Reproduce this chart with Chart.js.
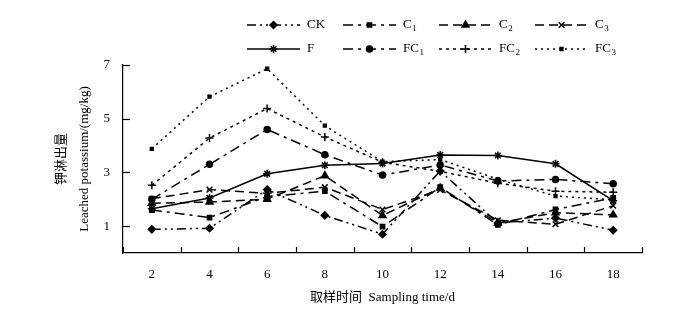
<!DOCTYPE html>
<html><head><meta charset="utf-8">
<script src="https://cdn.jsdelivr.net/npm/chart.js@4.4.0/dist/chart.umd.min.js"></script>
<style>html,body{margin:0;padding:0;background:#fff}#wrap{width:700px;height:310px;position:relative}</style>
</head><body><div id="wrap"><canvas id="c"></canvas></div>
<script>
const categories = ['2','4','6','8','10','12','14','16','18'];
const seriesNames = ['CK','C1','C2','C3','F','FC1','FC2','FC3'];
const CK  = [0.88,0.92,2.36,1.40,0.70,3.05,1.12,1.30,0.85];
const C1  = [1.60,1.32,2.10,2.30,0.98,2.45,1.05,1.62,2.05];
const C2  = [1.85,1.90,2.00,2.88,1.40,2.42,1.12,1.50,1.42];
const C3  = [2.02,2.36,2.22,2.45,1.62,2.35,1.22,1.07,1.76];
const F   = [1.65,2.05,2.95,3.27,3.33,3.65,3.63,3.32,1.95];
const FC1 = [2.00,3.30,4.60,3.66,2.90,3.28,2.68,2.74,2.58];
const FC2 = [2.52,4.28,5.38,4.32,3.38,3.04,2.60,2.30,2.26];
const FC3 = [3.88,5.82,6.86,4.74,3.40,3.48,2.75,2.12,1.98];
const yTicks = [1,3,5,7];

const SERIF = '"Liberation Serif", "Noto Sans CJK SC", serif';
const styles = [
  {dash:[9,4,2,4,2,4], point:'rectRot', r:3.5},
  {dash:[10,5,3,5], point:'rect', r:3},
  {dash:[9,5], point:'triangle', r:4},
  {dash:[9,5], point:'crossRot', r:4},
  {dash:[], point:'star', r:4},
  {dash:[10,5,3,5], point:'circle', r:3},
  {dash:[3,4], point:'cross', r:4},
  {dash:[2,4], point:'rect', r:2}
];
const values = [CK,C1,C2,C3,F,FC1,FC2,FC3];

const datasets = values.map((v,i)=>({
  label: seriesNames[i], data: v,
  borderColor:'#000', backgroundColor:'#000', borderWidth:1.5,
  borderDash: styles[i].dash, pointStyle: styles[i].point,
  pointRadius: styles[i].r, pointBorderWidth:1.5, pointBorderColor:'#000', pointBackgroundColor:'#000',
  tension:0, fill:false
}));

const inwardTicks = {
  id:'inwardTicks',
  afterDraw(chart){
    const ctx = chart.ctx, x = chart.scales.x, y = chart.scales.y;
    ctx.save(); ctx.strokeStyle='#000'; ctx.lineWidth=1.2; ctx.setLineDash([]);
    const n = categories.length;
    for(let i=0;i<=n;i++){
      const px = Math.round(x.left + i*(x.right-x.left)/n)+0.5;
      ctx.beginPath(); ctx.moveTo(px, x.top); ctx.lineTo(px, x.top-6); ctx.stroke();
    }
    yTicks.forEach(v=>{
      const py = Math.round(y.getPixelForValue(v))+0.5;
      ctx.beginPath(); ctx.moveTo(y.right, py); ctx.lineTo(y.right+7, py); ctx.stroke();
    });
    ctx.restore();
  }
};

const customLegend = {
  id:'customLegend',
  afterDraw(chart){
    const ctx = chart.ctx;
    ctx.save();
    chart.data.datasets.forEach((ds,i)=>{
      const col = i%4, row = Math.floor(i/4);
      const x0 = 247 + col*96, yy = 25 + row*24, len = 53;
      ctx.strokeStyle='#000'; ctx.lineWidth=1.5; ctx.setLineDash(ds.borderDash);
      ctx.beginPath(); ctx.moveTo(x0,yy); ctx.lineTo(x0+len,yy); ctx.stroke();
      ctx.setLineDash([]);
      ctx.fillStyle='#000'; ctx.lineWidth=1.5;
      Chart.helpers.drawPoint(ctx,{pointStyle:ds.pointStyle, radius:ds.pointRadius, rotation:0, borderWidth:1.5}, x0+len/2, yy);
      const name = ds.label; const m = name.match(/^(\D+)(\d*)$/);
      ctx.font = '13px '+SERIF; ctx.textBaseline='middle'; ctx.textAlign='left';
      const tx = x0+len+7;
      ctx.fillText(m[1], tx, yy);
      if(m[2]){ const w = ctx.measureText(m[1]).width; ctx.font='9px '+SERIF; ctx.fillText(m[2], tx+w+0.5, yy+4); }
    });
    ctx.restore();
  }
};

new Chart(document.getElementById('c'), {
  type:'line',
  data:{ labels: categories, datasets },
  options:{
    responsive:true, maintainAspectRatio:false, animation:false,
    layout:{ padding:{ top:65, right:58, bottom:0, left:51 } },
    plugins:{ legend:{display:false}, tooltip:{enabled:false} },
    scales:{
      x:{
        offset:true,
        grid:{ display:true, drawOnChartArea:false, drawTicks:false, offset:true },
        border:{ display:true, color:'#000', width:1.2 },
        ticks:{ color:'#000', font:{family:SERIF, size:13}, padding:14, maxRotation:0 },
        title:{ display:true, text:'取样时间  Sampling time/d', color:'#000', font:{family:SERIF, size:13}, padding:{top:4,bottom:5} },
        afterFit(s){ s.height = 57; }
      },
      y:{
        min:0, max:7,
        afterBuildTicks(s){ s.ticks = yTicks.map(v=>({value:v})); },
        grid:{ display:true, drawOnChartArea:false, drawTicks:false },
        border:{ display:true, color:'#000', width:1.2 },
        ticks:{ color:'#000', font:{family:SERIF, size:13}, padding:13 },
        title:{ display:true, text:['钾淋出量','Leached potassium/(mg/kg)'], color:'#000', font:{family:SERIF, size:13, lineHeight:1.7}, padding:{top:0,bottom:10} },
        afterFit(s){ s.width = 72; }
      }
    }
  },
  plugins:[inwardTicks, customLegend]
});
</script></body></html>
